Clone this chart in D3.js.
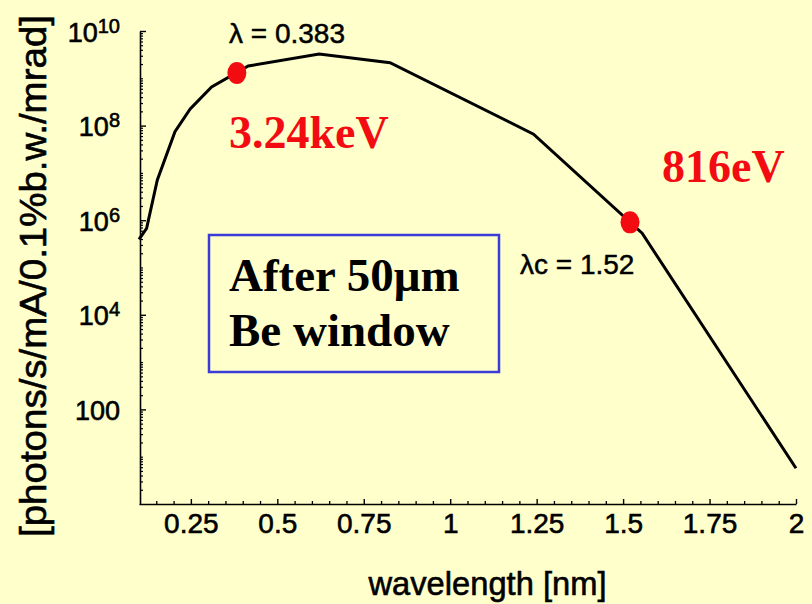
<!DOCTYPE html>
<html>
<head>
<meta charset="utf-8">
<script src="https://cdn.jsdelivr.net/npm/d3@7"></script>
<style>
  html, body { margin: 0; padding: 0; background: #ffffcc; }
  svg { display: block; }
</style>
</head>
<body>
<svg id="chart" width="812" height="604"></svg>
<script>
// Photon flux spectrum after a 50 µm Be window (log scale)
const wavelength = [0.100, 0.122, 0.153, 0.204, 0.248, 0.310, 0.416, 0.621, 0.826, 1.241, 1.555, 2.000];
const flux       = [3.95e5, 6.7e5, 7.1e6, 7.4e7, 2.24e8, 6.6e8, 1.82e9, 3.27e9, 2.14e9, 6.6e7, 5.3e5, 5.7];

// Highlighted points: peak photon energy and critical wavelength
const markerLambda = [0.383, 1.52];
const markerFlux   = [1.3e9, 9.0e5];
const markerNames  = ["λ = 0.383", "λc = 1.52"];
const energyLabels = ["3.24keV", "816eV"];

const xMajorTicks  = [0.25, 0.5, 0.75, 1, 1.25, 1.5, 1.75, 2];
const xTickLabels  = ["0.25", "0.5", "0.75", "1", "1.25", "1.5", "1.75", "2"];
const yLabelExps   = [2, 4, 6, 8, 10];
const yTickLabels  = [["100", ""], ["10", "4"], ["10", "6"], ["10", "8"], ["10", "10"]];

const boxLines = ["After 50μm", "Be window"];
const xTitle = "wavelength [nm]";
const yTitle = "[photons/s/mA/0.1%b.w./mrad]";

const sans = "'Liberation Sans', Arial, Helvetica, sans-serif";
const serif = "'Liberation Serif', 'Times New Roman', Times, serif";
const red = "#f20c12";

// slightly heavier strokes on sans text
function heavy(sel, w) {
  return sel.attr("stroke", "#000").attr("stroke-width", w).attr("paint-order", "stroke");
}

const svg = d3.select("#chart");
svg.append("rect").attr("width", 812).attr("height", 604).attr("fill", "#ffffcc");

const x = d3.scaleLinear().domain([0.1, 2]).range([139, 796]);
const y = d3.scaleLog().domain([1, 1e10]).range([504, 31]);

// ---- x axis: minor ticks every 0.05, labelled majors every 0.25
const xMinor = d3.range(0.15, 2.0001, 0.05).filter(v => !xMajorTicks.some(m => Math.abs(m - v) < 1e-6));
svg.append("g")
  .attr("transform", "translate(0,504)")
  .call(d3.axisBottom(x).tickValues(xMinor).tickSize(-3).tickFormat(""))
  .call(g => g.select(".domain").remove())
  .call(g => g.selectAll("line").attr("stroke", "#000").attr("stroke-width", 1.3));

const xAxis = svg.append("g")
  .attr("transform", "translate(0,504)")
  .call(d3.axisBottom(x).tickValues(xMajorTicks).tickSizeInner(-5).tickSizeOuter(0)
        .tickPadding(9).tickFormat((d, i) => xTickLabels[i]));
xAxis.select(".domain").attr("stroke", "#000").attr("stroke-width", 1.6);
xAxis.selectAll("line").attr("stroke", "#000").attr("stroke-width", 1.4);
heavy(xAxis.selectAll("text").attr("font-family", sans).attr("font-size", 28).attr("fill", "#000"), 0.6);

// ---- y axis: log ticks, labels every two decades
const yMinor = [];
for (let k = 0; k < 10; k++) for (let m = 1; m <= 9; m++) {
  if (m === 1 && k % 2 === 0) continue;
  yMinor.push(m * Math.pow(10, k));
}
svg.append("g")
  .attr("transform", "translate(140,0)")
  .call(d3.axisLeft(y).tickValues(yMinor).tickSize(-3).tickFormat(""))
  .call(g => g.select(".domain").remove())
  .call(g => g.selectAll("line").attr("stroke", "#000").attr("stroke-width", 1.2));

const yAxis = svg.append("g")
  .attr("transform", "translate(140,0)")
  .call(d3.axisLeft(y).tickValues(yLabelExps.map(e => Math.pow(10, e))).tickSizeInner(-6).tickSizeOuter(0)
        .tickPadding(20).tickFormat(""));
yAxis.select(".domain").attr("stroke", "#000").attr("stroke-width", 1.6);
yAxis.selectAll("line").attr("stroke", "#000").attr("stroke-width", 1.4);
yAxis.selectAll(".tick text").each(function(d, i) {
  const t = d3.select(this)
    .attr("font-family", sans).attr("font-size", 27).attr("fill", "#000")
    .attr("dy", "0.37em");
  heavy(t, 0.6);
  const [base, sup] = yTickLabels[i];
  t.append("tspan").text(base);
  if (sup) t.append("tspan").attr("font-size", 20).attr("dy", -9).text(sup);
});

// ---- spectrum curve
svg.append("path")
  .datum(wavelength.map((w, i) => [w, flux[i]]))
  .attr("fill", "none")
  .attr("stroke", "#000")
  .attr("stroke-width", 3)
  .attr("d", d3.line().x(d => x(d[0])).y(d => y(d[1])));

// ---- highlighted points
svg.selectAll(".marker")
  .data(markerLambda)
  .join("ellipse")
  .attr("class", "marker")
  .attr("cx", d => x(d))
  .attr("cy", (d, i) => y(markerFlux[i]))
  .attr("rx", 9.5).attr("ry", 11)
  .attr("fill", red);

// ---- annotations
const annot = [
  { text: markerNames[0], x: 229, y: 43 },
  { text: markerNames[1], x: 520, y: 274 }
];
heavy(svg.selectAll(".annot")
  .data(annot)
  .join("text")
  .attr("class", "annot")
  .attr("x", d => d.x).attr("y", d => d.y)
  .attr("font-family", sans).attr("font-size", 28).attr("fill", "#000")
  .text(d => d.text), 0.5);

const energies = [
  { text: energyLabels[0], x: 229, y: 148 },
  { text: energyLabels[1], x: 662, y: 182 }
];
svg.selectAll(".energy")
  .data(energies)
  .join("text")
  .attr("class", "energy")
  .attr("x", d => d.x).attr("y", d => d.y)
  .attr("font-family", serif).attr("font-weight", "bold").attr("font-size", 46).attr("fill", red)
  .text(d => d.text);

// ---- window box
svg.append("rect")
  .attr("x", 209).attr("y", 235).attr("width", 290).attr("height", 137)
  .attr("fill", "none").attr("stroke", "#3b3bd8").attr("stroke-width", 2.5);
svg.selectAll(".boxline")
  .data(boxLines)
  .join("text")
  .attr("class", "boxline")
  .attr("x", 229).attr("y", (d, i) => 291 + i * 55)
  .attr("font-family", serif).attr("font-weight", "bold").attr("font-size", 47).attr("fill", "#000")
  .text(d => d);

// ---- axis titles
heavy(svg.append("text")
  .attr("x", 487.5).attr("y", 595)
  .attr("text-anchor", "middle")
  .attr("font-family", sans).attr("font-size", 33).attr("fill", "#000")
  .attr("textLength", 238).attr("lengthAdjust", "spacingAndGlyphs")
  .text(xTitle), 0.6);

heavy(svg.append("text")
  .attr("transform", "translate(46,276) rotate(-90)")
  .attr("text-anchor", "middle")
  .attr("font-family", sans).attr("font-size", 37).attr("fill", "#000")
  .attr("textLength", 522).attr("lengthAdjust", "spacingAndGlyphs")
  .text(yTitle), 0.6);
</script>
</body>
</html>
